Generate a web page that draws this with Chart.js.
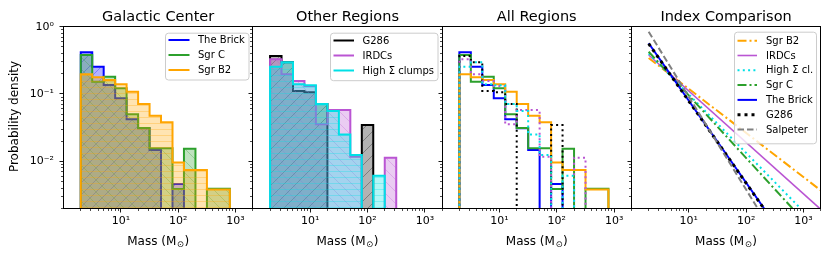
<!DOCTYPE html>
<html>
<head>
<meta charset="utf-8">
<script src="https://cdn.jsdelivr.net/npm/chart.js@4.4.0/dist/chart.umd.min.js"></script>
<style>
  html, body { margin: 0; padding: 0; background: #fff; }
  #wrap { position: relative; width: 830px; height: 256px; }
  #wrap canvas { position: absolute; left: 0; top: 0; }
</style>
</head>
<body>
<div id="wrap">
  <canvas id="c1" width="830" height="256"></canvas>
  <canvas id="c2" width="830" height="256"></canvas>
  <canvas id="c3" width="830" height="256"></canvas>
  <canvas id="c4" width="830" height="256"></canvas>
</div>
<script>
// bin edges of the mass histograms (Msun)
const binEdges = [2, 3.17, 5.02, 7.96, 12.6, 20, 31.7, 50.2, 79.6, 126, 200, 317, 502, 796];

// probability density per bin (0 = empty bin)
const brick     = [0.416, 0.255, 0.136, 0.0863, 0.0421, 0.0309, 0.0147, 0, 0.0046, 0, 0, 0, 0];
const sgrC      = [0.38, 0.152, 0.181, 0.1216, 0.050, 0.0312, 0.0156, 0.0156, 0.00388, 0.0153, 0, 0.0039, 0.0039];
const sgrB2     = [0.196, 0.177, 0.161, 0.139, 0.108, 0.071, 0.0476, 0.038, 0.00955, 0.0074, 0.0074, 0.0038, 0.0038];
const g286      = [0.367, 0.295, 0.111, 0.106, 0.071, 0, 0, 0, 0.0346, 0, 0, 0, 0];
const irdcs     = [0.327, 0.196, 0.156, 0.1315, 0.0355, 0.0578, 0.0578, 0.0117, 0, 0, 0.0113, 0, 0];
const highSigma = [0.255, 0.296, 0.14, 0.135, 0.071, 0.0559, 0.0251, 0.0124, 0, 0.0061, 0, 0, 0];

// power-law fits: start and end points
const fitSgrB2    = [[2, 0.343], [2000, 0.0037]];
const fitIrdcs    = [[2, 0.38], [1920, 0.002]];
const fitHigh     = [[2, 0.40], [885, 0.002]];
const fitSgrC     = [[2, 0.425], [640, 0.002]];
const fitBrick    = [[2, 0.567], [205, 0.002]];
const fitG286     = [[2, 0.56], [203, 0.002]];
const fitSalpeter = [[2, 0.843], [159, 0.002]];

// ticks
const xMajor = [10, 100, 1000];
const xMajorLabels = ['10¹', '10²', '10³'];
const yMajor = [0.01, 0.1, 1];
const yMajorLabels = ['10⁻²', '10⁻¹', '10⁰'];

const titles = ['Galactic Center', 'Other Regions', 'All Regions', 'Index Comparison'];

const C = {
  blue: '#0000ff', green: '#2ca02c', orange: '#ffa500', black: '#000000',
  purple: '#ba55d3', cyan: '#00e0e6', gray: '#808080'
};

const FONT = '"DejaVu Sans", sans-serif';
const FLOOR = 1e-4; // empty bins are drawn below the axis
const TOP = 26.7, BOTTOM = 208.3, LEFT0 = 63.5, WIDTH = 189.3;

function minorTicks(lo, hi) {
  const out = [];
  for (let e = lo; e <= hi; e++) {
    for (let m = 2; m < 10; m++) out.push(m * Math.pow(10, e));
  }
  return out;
}
const xMinor = minorTicks(0, 3).filter(v => v <= 2000);
const yMinor = minorTicks(-3, -1).filter(v => v >= 0.002);

function stepPoints(values) {
  const pts = [{ x: binEdges[0], y: FLOOR }];
  values.forEach((v, i) => pts.push({ x: binEdges[i], y: v > 0 ? v : FLOOR }));
  pts.push({ x: binEdges[binEdges.length - 1], y: FLOOR });
  return pts;
}

function hatchPattern(color, kind) {
  const c = document.createElement('canvas');
  c.width = 12;
  c.height = kind === '-' ? 6 : 12;
  const g = c.getContext('2d');
  g.globalAlpha = 0.3;
  g.fillStyle = color;
  g.fillRect(0, 0, c.width, c.height);
  g.strokeStyle = color;
  g.lineWidth = 1;
  g.beginPath();
  if (kind === '-') {
    g.moveTo(0, 3.5); g.lineTo(12, 3.5);
  } else if (kind === '/') {
    g.moveTo(-1, 13); g.lineTo(13, -1);
    g.moveTo(-1, 1); g.lineTo(1, -1);
    g.moveTo(11, 13); g.lineTo(13, 11);
  } else {
    g.moveTo(-1, -1); g.lineTo(13, 13);
    g.moveTo(11, -1); g.lineTo(13, 1);
    g.moveTo(-1, 11); g.lineTo(1, 13);
  }
  g.stroke();
  return g.createPattern(c, 'repeat');
}

function histFill(label, values, color, hatch, i) {
  return {
    label, data: stepPoints(values), stepped: 'before',
    borderColor: color, borderWidth: 2, backgroundColor: hatchPattern(color, hatch),
    fill: 'start', pointRadius: 0, order: -i
  };
}

function histLine(values, color, dash, i) {
  return {
    data: stepPoints(values), stepped: 'before',
    borderColor: color, borderWidth: 2, borderDash: dash,
    fill: false, pointRadius: 0, order: -i
  };
}

function fitLine(label, pts, color, width, dash, i) {
  return {
    label, data: pts.map(([x, y]) => ({ x, y })),
    borderColor: color, borderWidth: width, borderDash: dash,
    fill: false, pointRadius: 0, order: -i
  };
}

// frame, ticks, titles, axis labels and legend boxes
const decor = {
  id: 'decor',
  afterDraw(chart, args, opts) {
    const { ctx, chartArea: a } = chart;
    const xs = chart.scales.x, ys = chart.scales.y;
    const px = v => Math.round(v - 0.5) + 0.5;
    const L = px(a.left), R = px(a.right), T = px(a.top), B = px(a.bottom);
    ctx.save();
    ctx.strokeStyle = '#000';
    ctx.setLineDash([]);

    // tick marks (outward)
    const tick = (x1, y1, x2, y2, w) => {
      ctx.lineWidth = w;
      ctx.beginPath(); ctx.moveTo(x1, y1); ctx.lineTo(x2, y2); ctx.stroke();
    };
    xMinor.forEach(v => { const x = px(xs.getPixelForValue(v)); tick(x, B, x, B + 2.5, 0.7); });
    xMajor.forEach(v => { const x = px(xs.getPixelForValue(v)); tick(x, B, x, B + 4, 0.9); });
    yMinor.forEach(v => { const y = px(ys.getPixelForValue(v)); tick(L, y, L - 2.5, y, 0.7); });
    yMajor.forEach(v => { const y = px(ys.getPixelForValue(v)); tick(L, y, L - 4, y, 0.9); });

    ctx.lineWidth = 1;
    ctx.strokeRect(L, T, R - L, B - T);

    ctx.fillStyle = '#000';
    ctx.font = '11px ' + FONT;
    ctx.textBaseline = 'middle';
    ctx.textAlign = 'center';
    xMajor.forEach((v, i) => ctx.fillText(xMajorLabels[i], xs.getPixelForValue(v), 221));
    if (opts.yLabel) {
      ctx.textAlign = 'right';
      yMajor.forEach((v, i) => ctx.fillText(yMajorLabels[i], 54, ys.getPixelForValue(v)));
    }

    const cx = (a.left + a.right) / 2;
    ctx.textBaseline = 'alphabetic';
    ctx.textAlign = 'center';
    ctx.font = '14.5px ' + FONT;
    ctx.fillText(opts.title, cx, 20.5);

    // x label: Mass (M⊙) with subscript
    const main = '12px ' + FONT, sub = '8.5px ' + FONT;
    ctx.font = main;
    const w1 = ctx.measureText('Mass (M').width;
    const w3 = ctx.measureText(')').width;
    ctx.font = sub;
    const w2 = ctx.measureText('⊙').width + 1;
    const x0 = cx - (w1 + w2 + w3) / 2;
    ctx.textAlign = 'left';
    ctx.font = main;
    ctx.fillText('Mass (M', x0, 244.5);
    ctx.font = sub;
    ctx.fillText('⊙', x0 + w1 + 0.5, 247);
    ctx.font = main;
    ctx.fillText(')', x0 + w1 + w2, 244.5);

    if (opts.yLabel) {
      ctx.save();
      ctx.translate(14.5, 116.5);
      ctx.rotate(-Math.PI / 2);
      ctx.textAlign = 'center';
      ctx.textBaseline = 'middle';
      ctx.font = '12px ' + FONT;
      ctx.fillText('Probability density', 0, 0);
      ctx.restore();
    }

    const lg = opts.legend;
    if (lg) {
      const [bx, by, bw, bh] = lg.box;
      ctx.beginPath();
      ctx.roundRect(bx + 0.5, by + 0.5, bw, bh, 3);
      ctx.fillStyle = 'rgba(255,255,255,0.8)';
      ctx.fill();
      ctx.strokeStyle = '#cccccc';
      ctx.lineWidth = 1;
      ctx.stroke();
      const items = chart.data.datasets.filter(d => d.label);
      ctx.font = '10px ' + FONT;
      ctx.textAlign = 'left';
      ctx.textBaseline = 'middle';
      items.forEach((d, i) => {
        const y = lg.row0 + i * lg.step;
        ctx.beginPath();
        ctx.strokeStyle = d.borderColor;
        ctx.lineWidth = d.borderWidth;
        ctx.setLineDash(lg.plain ? [] : (d.borderDash || []));
        ctx.moveTo(lg.lineX0, y);
        ctx.lineTo(lg.lineX1, y);
        ctx.stroke();
        ctx.setLineDash([]);
        ctx.fillStyle = '#000';
        ctx.fillText(d.label, lg.textX, y + 0.5);
      });
    }
    ctx.restore();
  }
};

function makeChart(id, idx, datasets, extra) {
  const left = LEFT0 + WIDTH * idx;
  return new Chart(document.getElementById(id), {
    type: 'line',
    data: { datasets },
    options: {
      responsive: false,
      animation: false,
      events: [],
      devicePixelRatio: 1,
      layout: { padding: { left, right: 830 - left - WIDTH, top: TOP, bottom: 256 - BOTTOM } },
      scales: {
        x: { type: 'logarithmic', display: false, min: 1, max: 2000, bounds: 'data' },
        y: { type: 'logarithmic', display: false, min: 0.002, max: 1, bounds: 'data' }
      },
      plugins: {
        legend: { display: false },
        tooltip: { enabled: false },
        decor: Object.assign({ title: titles[idx], yLabel: idx === 0 }, extra)
      }
    },
    plugins: [decor]
  });
}

// Galactic Center
makeChart('c1', 0, [
  histFill('The Brick', brick, C.blue, '/', 0),
  histFill('Sgr C', sgrC, C.green, '\\', 1),
  histFill('Sgr B2', sgrB2, C.orange, '-', 2)
], { legend: { box: [165, 32.7, 83.5, 46.8], row0: 40, step: 15, lineX0: 168.5, lineX1: 189.5, textX: 198, plain: true } });

// Other Regions
makeChart('c2', 1, [
  histFill('G286', g286, C.black, '/', 0),
  histFill('IRDCs', irdcs, C.purple, '\\', 1),
  histFill('High Σ clumps', highSigma, C.cyan, '-', 2)
], { legend: { box: [330, 32.7, 107.5, 47.5], row0: 40.5, step: 15, lineX0: 333.5, lineX1: 354, textX: 362.5, plain: true } });

// All Regions
makeChart('c3', 2, [
  histLine(brick, C.blue, [], 0),
  histLine(sgrC, C.green, [], 1),
  histLine(sgrB2, C.orange, [], 2),
  histLine(g286, C.black, [2, 3.3], 3),
  histLine(irdcs, C.purple, [2, 3.3], 4),
  histLine(highSigma, C.cyan, [2, 3.3], 5)
], {});

// Index Comparison
makeChart('c4', 3, [
  fitLine('Sgr B2', fitSgrB2, C.orange, 2, [9, 3, 2, 3], 0),
  fitLine('IRDCs', fitIrdcs, C.purple, 1.6, [], 1),
  fitLine('High Σ cl.', fitHigh, C.cyan, 2, [2, 3.3], 2),
  fitLine('Sgr C', fitSgrC, C.green, 2, [9, 3, 2, 3], 3),
  fitLine('The Brick', fitBrick, C.blue, 2, [], 4),
  fitLine('G286', fitG286, C.black, 3, [3, 4], 5),
  fitLine('Salpeter', fitSalpeter, C.gray, 2, [6.5, 3], 6)
], { legend: { box: [734, 31.7, 82, 111.6], row0: 40.7, step: 14.8, lineX0: 737.5, lineX1: 757, textX: 766 } });
</script>
</body>
</html>
